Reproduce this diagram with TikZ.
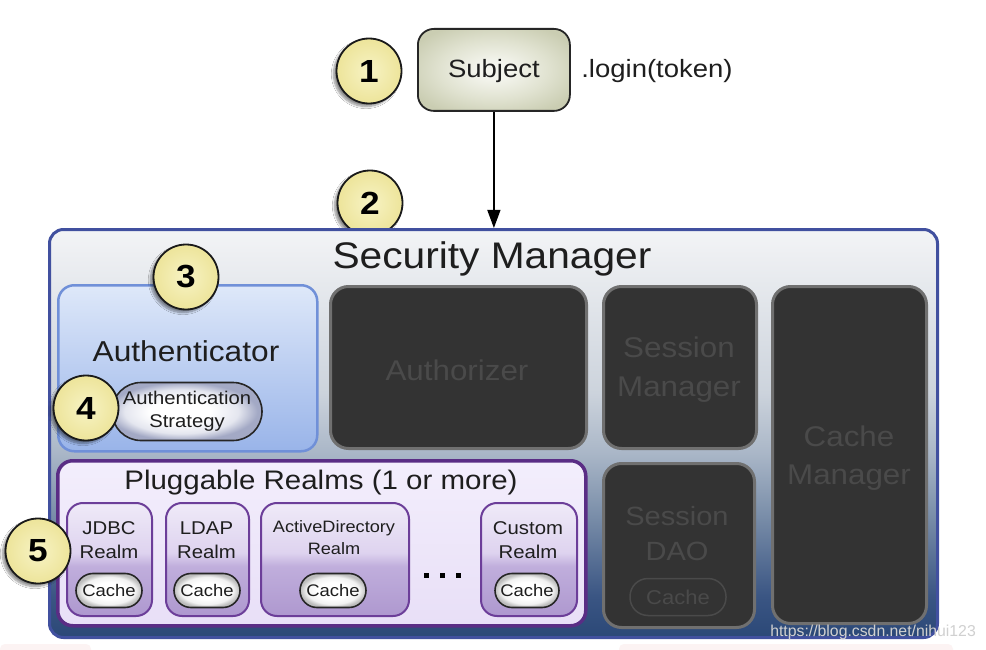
\documentclass[tikz,border=0pt]{standalone}
\usepackage{fontspec}
\setmainfont{Liberation Sans}[FakeStretch=1.1]
\newfontfamily\wmfont{Liberation Sans}
\usetikzlibrary{shadows.blur,arrows.meta}
\newcommand\myfs[2]{\fontsize{#1pt}{#2pt}\selectfont}
\definecolor{smA}{HTML}{2B4877}
\definecolor{smB}{HTML}{3A5583}
\definecolor{smC}{HTML}{7A8EA9}
\definecolor{smD}{HTML}{A9B6C7}
\definecolor{smE}{HTML}{CCD3DC}
\definecolor{smF}{HTML}{F3F4F6}
\definecolor{smedge}{HTML}{41509F}
\definecolor{rmA}{HTML}{AE98CF}
\definecolor{rmB}{HTML}{C0AEDC}
\definecolor{rmC}{HTML}{DED3EF}
\definecolor{rmD}{HTML}{EFEAF8}
\definecolor{rmedge}{HTML}{6C3E99}
\definecolor{plugedge}{HTML}{5A2D85}
\definecolor{plugtop}{HTML}{F3EEFC}
\definecolor{plugbot}{HTML}{E8DFF7}
\definecolor{authtop}{HTML}{DEE8F9}
\definecolor{authbot}{HTML}{99B4E9}
\definecolor{authedge}{HTML}{7090D8}
\definecolor{darkfill}{HTML}{333333}
\definecolor{darkedge}{HTML}{707070}
\definecolor{darktext}{HTML}{4A4A4A}
\definecolor{numin}{HTML}{F7F3C4}
\definecolor{numout}{HTML}{EDE49A}
\definecolor{numedge}{HTML}{1A1A1A}
\definecolor{subA}{HTML}{F4F5EE}
\definecolor{subB}{HTML}{E0E2D0}
\definecolor{subC}{HTML}{CACDB2}
\definecolor{pillA}{HTML}{FFFFFF}
\definecolor{pillB}{HTML}{F2F2F2}
\definecolor{pillC}{HTML}{BDBDBD}
\definecolor{stratB}{HTML}{E4E6EF}
\definecolor{stratC}{HTML}{A3A9C5}
\definecolor{wmcol}{HTML}{D0D0D0}
\definecolor{pinkish}{HTML}{FCF3F3}
\definecolor{txt}{HTML}{1E1E1E}
\pgfdeclareverticalshading{smshade}{100bp}{color(0bp)=(smA); color(25bp)=(smA); color(30bp)=(smB); color(40bp)=(smC); color(47.5bp)=(smD); color(55bp)=(smE); color(75bp)=(smF); color(100bp)=(smF)}
\pgfdeclareverticalshading{realmshade}{100bp}{color(0bp)=(rmA); color(25bp)=(rmA); color(47bp)=(rmB); color(53bp)=(rmC); color(75bp)=(rmD); color(100bp)=(rmD)}
\pgfdeclareradialshading{pillshade}{\pgfpoint{0bp}{0bp}}{color(0bp)=(pillA); color(12bp)=(pillA); color(20bp)=(pillB); color(25bp)=(pillC); color(50bp)=(pillC)}
\pgfdeclareradialshading{stratshade}{\pgfpoint{-3bp}{0bp}}{color(0bp)=(pillA); color(10bp)=(pillA); color(19bp)=(stratB); color(25bp)=(stratC); color(50bp)=(stratC)}
\pgfdeclareradialshading{subshade}{\pgfpoint{0bp}{0bp}}{color(0bp)=(subA); color(5bp)=(subA); color(18bp)=(subB); color(30bp)=(subC); color(50bp)=(subC)}
\begin{document}
\begin{tikzpicture}[x=1pt,y=-1pt,
  num/.style={circle, draw=numedge, line width=1.8pt, shading=radial, inner color=numin, outer color=numout,
    minimum size=65pt, inner sep=0pt, text=black, font=\myfs{32}{32}\bfseries,
    blur shadow={shadow xshift=-3pt, shadow yshift=-3pt, shadow blur steps=8, shadow opacity=45}},
  darkbox/.style={draw=darkedge, line width=3pt, fill=darkfill, rounded corners=18pt,
    anchor=north west, inner sep=0pt},
  darktxt/.style={text=darktext, align=center, inner sep=0pt},
  realmbox/.style={draw=rmedge, line width=2pt, shading=realmshade, rounded corners=16pt,
    anchor=north west, inner sep=0pt},
  cachepill/.style={draw=black!85, line width=1.6pt, rounded corners=17pt, shading=pillshade,
    minimum width=66pt, minimum height=34pt, inner sep=0pt,
    text=txt, font=\myfs{16.8}{18}},
  realmtext/.style={text=txt, align=center, font=\myfs{18.5}{24}, inner sep=0pt},
  plain/.style={text=txt, inner sep=0pt}
]
\useasboundingbox (0,0) rectangle (986,650);
\fill[white] (0,0) rectangle (986,650);
\fill[pinkish, rounded corners=5pt] (0,644) rectangle (91,660);
\fill[pinkish, rounded corners=5pt] (619,644) rectangle (953,660);

% Subject
\node[draw=black!85, line width=1.8pt, rounded corners=16pt, shading=subshade,
  anchor=north west, minimum width=152pt, minimum height=82pt, inner sep=0pt] (subject) at (417,28) {};
\node[plain, font=\myfs{25}{25}] (subjtext) at (subject.center |- 0,71) {Subject};
\node[plain, font=\myfs{25}{25}] (login) at (657,71) {.login(token)};
\node[num] (n1) at (369,71) {1};

% circle 2 (its foot hidden by the Security Manager box)
\node[num] (n2) at (370,203) {2};

% Security Manager
\node[draw=smedge, line width=3pt, rounded corners=14pt, shading=smshade, anchor=north west,
  minimum width=888pt, minimum height=408pt, inner sep=0pt] (sm) at (48,228) {};
\node[plain, font=\myfs{37}{37}] (smtitle) at (492,259) {Security Manager};
\draw[-{Triangle[length=18pt,width=13pt]}, line width=1.3pt, black] (subject.south) -- (subject.south |- sm.north);

% Authenticator
\node[draw=authedge, line width=2.5pt, rounded corners=16pt, top color=authtop, bottom color=authbot,
  anchor=north west, minimum width=259pt, minimum height=166pt, inner sep=0pt] (auth) at (57,284) {};
\node[plain, font=\myfs{28.8}{28.8}] (authtitle) at (186,351) {Authenticator};
\node[draw=black!85, line width=1.6pt, rounded corners=29pt, shading=stratshade,
  minimum width=150pt, minimum height=58pt, inner sep=0pt, align=center, text=txt, font=\myfs{18.4}{23}]
  (strat) at (187,411.5) {Authentication\\Strategy};
\node[num] (n3) at (186,277) {3};
\node[num] (n4) at (86,408) {4};

% dark components
\node[darkbox, minimum width=256pt, minimum height=162pt] (authz) at (329,285) {};
\node[darktxt, font=\myfs{28.5}{28.5}] (authztext) at (457,370) {Authorizer};
\node[darkbox, minimum width=153pt, minimum height=162pt] (sessmgr) at (602,285) {};
\node[darktxt, font=\myfs{28.5}{39}] (sessmgrtext) at (679,370) {Session\\Manager};
\node[darkbox, minimum width=154pt, minimum height=337pt] (cachemgr) at (771,285) {};
\node[darktxt, font=\myfs{28.5}{38}] (cachemgrtext) at (849,458) {Cache\\Manager};
\node[darkbox, minimum width=151pt, minimum height=164pt] (dao) at (602,462) {};
\node[darktxt, font=\myfs{26.4}{35}] (daotext) at (677,534) {Session\\DAO};
\node[draw=darktext, line width=1.5pt, rounded corners=18pt, minimum width=96pt, minimum height=37pt,
  inner sep=0pt, text=darktext, font=\myfs{20}{20}] (daocache) at (678,597) {Cache};

% Pluggable realms
\node[draw=plugedge, line width=3.5pt, rounded corners=15pt, top color=plugtop, bottom color=plugbot,
  anchor=north west, minimum width=528pt, minimum height=165pt, inner sep=0pt] (plug) at (56,459) {};
\node[plain, font=\myfs{26.8}{26.8}] (plugtitle) at (321,483) {Pluggable Realms (1 or more)};

\node[realmbox, minimum width=85pt, minimum height=113pt] (jdbc) at (66,502) {};
\node[realmtext] (jdbct) at (109,540) {JDBC\\Realm};
\node[cachepill] (jdbcc) at (109,590.5) {Cache};

\node[realmbox, minimum width=83pt, minimum height=113pt] (ldap) at (165,502) {};
\node[realmtext] (ldapt) at (206.5,540) {LDAP\\Realm};
\node[cachepill] (ldapc) at (207,590.5) {Cache};

\node[realmbox, minimum width=148pt, minimum height=113pt] (ad) at (260,502) {};
\node[realmtext, font=\myfs{16.5}{22}] (adt) at (334,538) {ActiveDirectory\\Realm};
\node[cachepill] (adc) at (333,590.5) {Cache};

\node[realmbox, minimum width=96pt, minimum height=113pt] (custom) at (480,502) {};
\node[realmtext] (customt) at (528,540) {Custom\\Realm};
\node[cachepill, minimum width=64pt] (customc) at (527,590.5) {Cache};

\node[inner sep=0pt, minimum width=40pt, minimum height=6pt] (dots) at (442,575) {};
\foreach \dx in {-16,0,16} \fill[black] ([xshift=\dx pt]dots.center) ++(-2.5,-2.5) rectangle ++(5,5);

\node[num] (n5) at (38,551) {5};

% watermark
\node[anchor=east, inner sep=0pt, text=wmcol, font=\wmfont\myfs{15.8}{16}] (wm) at (976,632) {https://blog.csdn.net/nihui123};
\end{tikzpicture}
\end{document}
